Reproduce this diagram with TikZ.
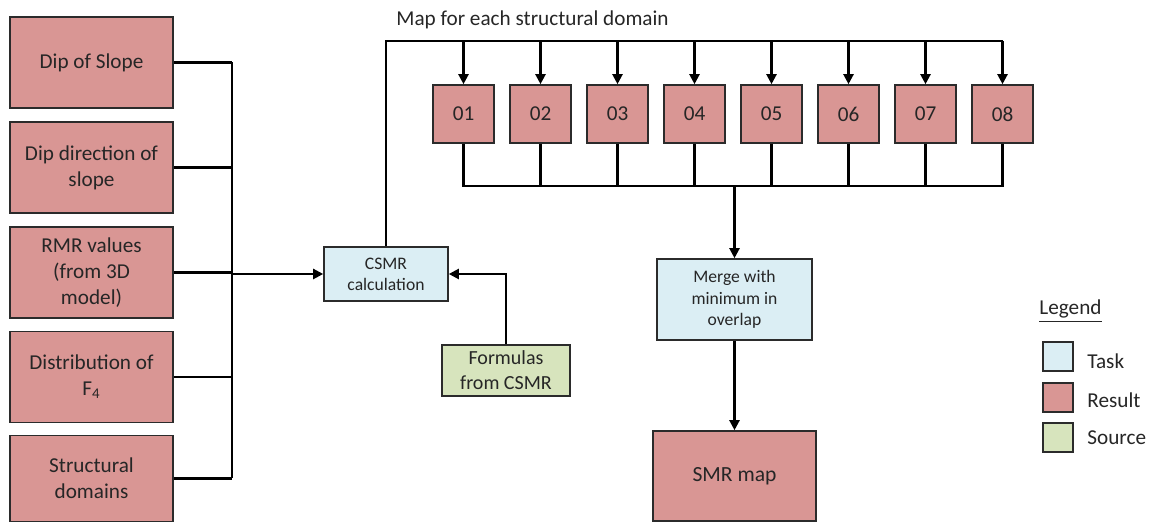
\documentclass[tikz,border=0pt]{standalone}
\usepackage{fontspec}
\setmainfont{Carlito}
\usetikzlibrary{arrows.meta}
\definecolor{resfill}{HTML}{D99694}
\definecolor{taskfill}{HTML}{DBEEF4}
\definecolor{srcfill}{HTML}{D7E4BD}
\definecolor{edge}{HTML}{2B2B2B}
\tikzset{
  box/.style={draw=edge, line width=0.8pt, rectangle, inner sep=0pt, align=center, text=black!85},
  result/.style={box, fill=resfill},
  task/.style={box, fill=taskfill},
  source/.style={box, fill=srcfill},
  wire/.style={line width=1.1pt, black},
  arr/.style={wire, -{Triangle[length=5pt,width=5pt]}},
  big/.style={font=\fontsize{10.6pt}{13pt}\selectfont},
  small/.style={font=\fontsize{8.8pt}{10.6pt}\selectfont},
  mid/.style={font=\fontsize{10pt}{12.5pt}\selectfont},
  legtext/.style={font=\fontsize{10.6pt}{12pt}\selectfont, anchor=west, inner sep=0pt, text=black!85},
}
\begin{document}
\begin{tikzpicture}[x=0.5pt,y=-0.5pt]
\useasboundingbox (0,0) rectangle (1150,522);

% input results on the left
\node[result,big,minimum width=81.5pt,minimum height=45.5pt] (dip) at (91.5,62.5) {Dip of Slope};
\node[result,big,minimum width=81.5pt,minimum height=45.5pt] (dipdir) at (91.5,167.5) {Dip direction of\\slope};
\node[result,big,minimum width=81.5pt,minimum height=45.5pt] (rmr) at (91.5,272.5) {RMR values\\(from 3D\\model)};
\node[result,big,minimum width=81.5pt,minimum height=45.5pt] (f4) at (91.5,377) {Distribution of\\F\textsubscript{4}};
\node[result,big,minimum width=81.5pt,minimum height=43pt] (struct) at (91.5,478.5) {Structural\\domains};

% collecting bus
\coordinate (bustop) at (232,62.5);
\coordinate (busbot) at (232,478.5);
\coordinate (busout) at (232,274);

% calculation and its source
\node[task,small,minimum width=62pt,minimum height=27pt] (csmr) at (386,274) {CSMR\\calculation};
\node[source,mid,minimum width=64pt,minimum height=25.5pt] (formulas) at (506,370.5) {Formulas\\from CSMR};

% structural domain maps
\foreach \i/\x in {1/463.5,2/540.5,3/617.5,4/694.5,5/771.5,6/848.5,7/925.5,8/1002.5}{
  \node[result,big,minimum width=30.5pt,minimum height=29pt] (m\i) at (\x,114) {0\i};
}
\node[legtext] (maplabel) at (396,20) {Map for each structural domain};

% merge and final map
\node[task,small,minimum width=77.5pt,minimum height=40.5pt] (merge) at (734.5,299.5) {Merge with\\minimum in\\overlap};
\node[result,font=\fontsize{10.8pt}{12pt}\selectfont,minimum width=81.5pt,minimum height=45pt] (smr) at (734.5,476) {SMR map};

% wiring: inputs into the bus
\foreach \n in {dip,dipdir,rmr,f4,struct}{
  \draw[wire] (\n.east) -- (\n.east -| bustop);
}
\draw[wire] (bustop) -- (busbot);
\draw[arr] (busout) -- (csmr.west);
\draw[arr] (formulas.north) |- (csmr.east);

% wiring: distribution to the domain maps
\coordinate (topleft) at (386,41);
\draw[wire] (csmr.north) -- (topleft) -- (topleft -| m8.north);
\foreach \i in {1,...,8}{
  \draw[arr] (topleft -| m\i.north) -- (m\i.north);
}

% wiring: maps gathered into the merge
\coordinate (botbus) at (734.5,186);
\draw[wire] (m1.south) -- (m1.south |- botbus) -- (m8.south |- botbus) -- (m8.south);
\foreach \i in {2,...,7}{
  \draw[wire] (m\i.south) -- (m\i.south |- botbus);
}
\draw[arr] (botbus) -- (merge.north);
\draw[arr] (merge.south) -- (smr.north);

% legend
\node[legtext] (leghead) at (1039,311) {\underline{Legend}};
\node[task,minimum width=15pt,minimum height=14.5pt] (legtask) at (1058,356.5) {};
\node[result,minimum width=15pt,minimum height=14.5pt] (legres) at (1058,397.5) {};
\node[source,minimum width=15pt,minimum height=14.5pt] (legsrc) at (1058,437.5) {};
\node[legtext] (legtasktxt) at (1087,361) {Task};
\node[legtext] (legrestxt) at (1087,400) {Result};
\node[legtext] (legsrctxt) at (1087,438) {Source};
\end{tikzpicture}
\end{document}
